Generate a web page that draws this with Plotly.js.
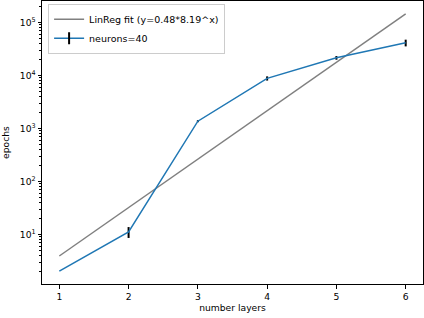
<!DOCTYPE html>
<html>
<head>
<meta charset="utf-8">
<script src="https://cdn.plot.ly/plotly-3.0.1.min.js"></script>
<style>html,body{margin:0;padding:0;background:#fff;}#chart{width:424px;height:318px;}</style>
</head>
<body>
<div id="chart"></div>
<script>
const layers = [1, 2, 3, 4, 5, 6];
const fitEpochs = [3.93, 32.2, 264, 2160, 17700, 145000];
const neuronEpochs = [2.04, 11.2, 1370, 8800, 21500, 41300];
const neuronErr = [0, 2.6, 60, 800, 1700, 6000];
const yTickVals = [10, 100, 1000, 10000, 100000];
const yTickText = ['10<sup>1</sup>', '10<sup>2</sup>', '10<sup>3</sup>', '10<sup>4</sup>', '10<sup>5</sup>'];
const fitLabel = 'LinReg fit (y=0.48*8.19^x)';
const seriesLabel = 'neurons=40';
const xTitle = 'number layers';
const yTitle = 'epochs';

const minorVals = [];
for (let p = 0; p <= 5; p++) for (let m = 2; m <= 9; m++) minorVals.push(m * Math.pow(10, p));

const font = 'DejaVu Sans, sans-serif';
const traces = [
  {x: layers, y: fitEpochs, type: 'scatter', mode: 'lines', name: fitLabel,
   line: {color: '#808080', width: 1.5}},
  {x: layers, y: neuronEpochs, type: 'scatter', mode: 'lines', name: seriesLabel,
   line: {color: '#1f77b4', width: 1.5},
   error_y: {type: 'data', array: neuronErr, visible: true, color: 'black', thickness: 2, width: 0}}
];
const layout = {
  width: 424, height: 318,
  margin: {l: 42, r: 1, t: 1, b: 34, pad: 0},
  paper_bgcolor: '#fff', plot_bgcolor: '#fff',
  font: {family: font, size: 9, color: 'black'},
  showlegend: true,
  legend: {x: 0.016, y: 0.99, xanchor: 'left', yanchor: 'top',
    bordercolor: '#cccccc', borderwidth: 1, bgcolor: 'rgba(255,255,255,0.8)',
    font: {family: font, size: 9.5}, tracegroupgap: 0, itemwidth: 30},
  xaxis: {range: [0.75, 6.25], tickmode: 'array', tickvals: layers, ticktext: layers.map(String),
    showgrid: false, zeroline: false, showline: true, mirror: true, linecolor: 'black', linewidth: 1,
    ticks: 'outside', ticklen: 3.5, tickcolor: 'black', tickfont: {family: font, size: 9.2},
    title: {text: xTitle, font: {family: font, size: 9.2}, standoff: 4}},
  yaxis: {type: 'log', range: [0.066, 5.404], tickmode: 'array', tickvals: yTickVals, ticktext: yTickText,
    showgrid: false, zeroline: false, showline: true, mirror: true, linecolor: 'black', linewidth: 1,
    ticks: 'outside', ticklen: 3.5, tickcolor: 'black', tickfont: {family: font, size: 9.2},
    minor: {ticks: 'outside', ticklen: 2, tickcolor: 'black', tickmode: 'array', tickvals: minorVals, showgrid: false},
    title: {text: yTitle, font: {family: font, size: 9.2}, standoff: 8}}
};
Plotly.newPlot('chart', traces, layout, {displayModeBar: false, staticPlot: true}).then(function (gd) {
  // add error-bar glyph to the legend entry of the error-bar series
  const groups = gd.querySelectorAll('.legend .traces');
  if (groups.length > 1) {
    const pts = groups[1].querySelector('.legendpoints') || groups[1];
    const ns = 'http://www.w3.org/2000/svg';
    const ln = document.createElementNS(ns, 'line');
    ln.setAttribute('x1', 20); ln.setAttribute('x2', 20);
    ln.setAttribute('y1', -6); ln.setAttribute('y2', 6);
    ln.setAttribute('stroke', 'black'); ln.setAttribute('stroke-width', 2);
    pts.appendChild(ln);
  }
});
</script>
</body>
</html>
